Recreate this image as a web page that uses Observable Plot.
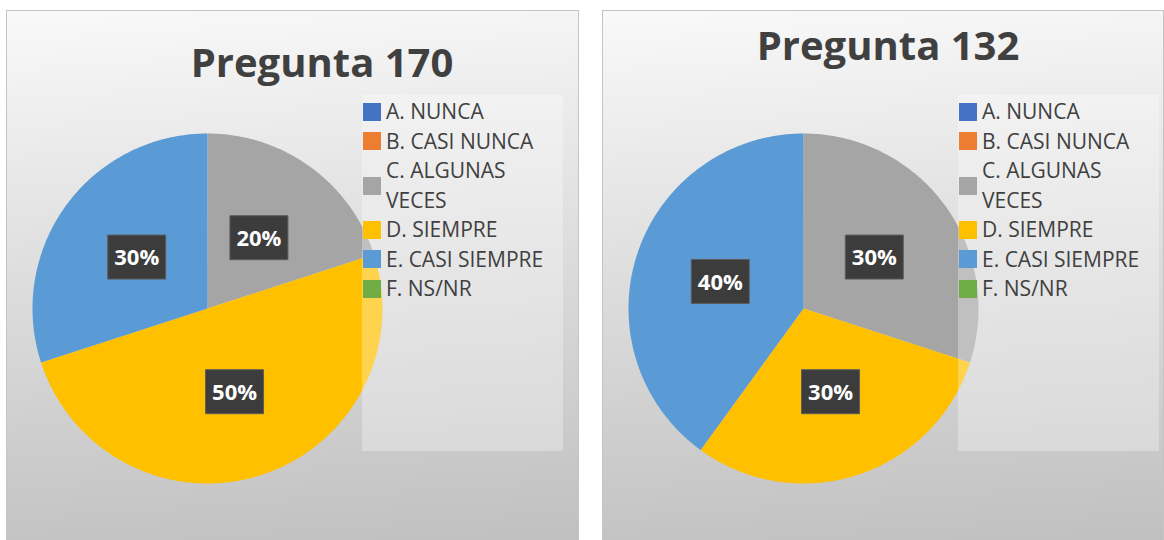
<!DOCTYPE html>
<html><head><meta charset="utf-8">
<script src="https://cdn.jsdelivr.net/npm/d3@7"></script>
<script src="https://cdn.jsdelivr.net/npm/@observablehq/plot@0.6"></script>
<style>
html,body{margin:0;padding:0;background:#fff;}
body{width:1164px;height:540px;overflow:hidden;position:relative;font-family:"Open Sans",sans-serif;}
.panel{position:absolute;top:10px;height:540px;border:1px solid #c4c4c4;box-sizing:border-box;
  background:linear-gradient(176deg,#f9f9f9 0%,#e4e4e4 35%,#bfbfbf 100%);overflow:hidden;}
.panel svg{position:absolute;left:0;top:0;}
.title{position:absolute;font-family:"Open Sans",sans-serif;font-weight:700;font-size:40px;color:#404040;white-space:nowrap;transform:translateX(-50%);line-height:1;}
.legend{position:absolute;background:rgba(255,255,255,0.3);box-sizing:border-box;padding-top:2px;padding-left:1px;}
.item{display:flex;align-items:center;font-size:21px;line-height:29.5px;color:#404040;}
.sw{width:18px;height:18px;flex:0 0 18px;margin-right:5px;}
.lab{width:170px;}
</style>
</head><body>
<script>
const categories = ["A. NUNCA", "B. CASI NUNCA", "C. ALGUNAS VECES", "D. SIEMPRE", "E. CASI SIEMPRE", "F. NS/NR"];
const colors = ["#4472C4", "#ED7D31", "#A5A5A5", "#FFC000", "#5B9BD5", "#70AD47"];
const titles = ["Pregunta 170", "Pregunta 132"];
const values170 = [0, 0, 20, 50, 30, 0];
const values132 = [0, 0, 30, 30, 40, 0];

const boxSymbol = {draw(ctx) { ctx.moveTo(-29, -22); ctx.lineTo(29, -22); ctx.lineTo(29, 22); ctx.lineTo(-29, 22); ctx.closePath(); }};

function panel(values, title, left, width, titleX, titleTop) {
  const div = document.createElement("div");
  div.className = "panel";
  div.style.left = left + "px";
  div.style.width = width + "px";
  document.body.appendChild(div);

  const rows = categories.map((c, i) => ({cat: c, value: values[i]}));
  const total = d3.sum(values);
  const arcs = d3.pie().sort(null).value(d => d.value)(rows).filter(a => a.value > 0);
  const pts = arcs.flatMap(a => {
    const n = Math.ceil((a.endAngle - a.startAngle) / 0.01);
    const out = [{cat: a.data.cat, x: 0, y: 0}];
    for (let i = 0; i <= n; i++) {
      const t = a.startAngle + (a.endAngle - a.startAngle) * i / n;
      out.push({cat: a.data.cat, x: Math.sin(t), y: Math.cos(t)});
    }
    return out;
  });
  const labels = arcs.map(a => {
    const m = (a.startAngle + a.endAngle) / 2;
    return {x: 0.5 * Math.sin(m), y: 0.5 * Math.cos(m), text: Math.round(a.value / total * 100) + "%"};
  });

  const svg = Plot.plot({
    width: width - 2, height: 529, margin: 0,
    x: {domain: [-1, 1], range: [25, 375], axis: null},
    y: {domain: [-1, 1], range: [472, 122], axis: null},
    color: {domain: categories, range: colors},
    style: {background: "transparent", overflow: "visible"},
    marks: [
      Plot.line(pts, {x: "x", y: "y", z: "cat", fill: "cat", stroke: "none", curve: "linear"}),
      Plot.dot(labels, {x: "x", y: "y", symbol: boxSymbol, r: 5, fill: "#3c3c3c", stroke: "#5c5c5c", strokeWidth: 1}),
      Plot.text(labels, {x: "x", y: "y", text: "text", fill: "white", fontSize: 22, fontWeight: 700, fontFamily: "Open Sans", dy: 1})
    ]
  });
  div.appendChild(svg);

  const t = document.createElement("div");
  t.className = "title";
  t.textContent = title;
  t.style.left = titleX + "px";
  t.style.top = titleTop + "px";
  div.appendChild(t);

  const lg = document.createElement("div");
  lg.className = "legend";
  lg.style.left = "355px";
  lg.style.top = "84px";
  lg.style.width = "201px";
  lg.style.height = "356px";
  categories.forEach((c, i) => {
    const it = document.createElement("div");
    it.className = "item";
    it.innerHTML = `<span class="sw" style="background:${colors[i]}"></span><span class="lab"></span>`;
    it.querySelector(".lab").textContent = c;
    lg.appendChild(it);
  });
  div.appendChild(lg);
}

panel(values170, titles[0], 6, 573, 315, 31);
panel(values132, titles[1], 602, 562, 285, 14);
</script>
</body></html>
